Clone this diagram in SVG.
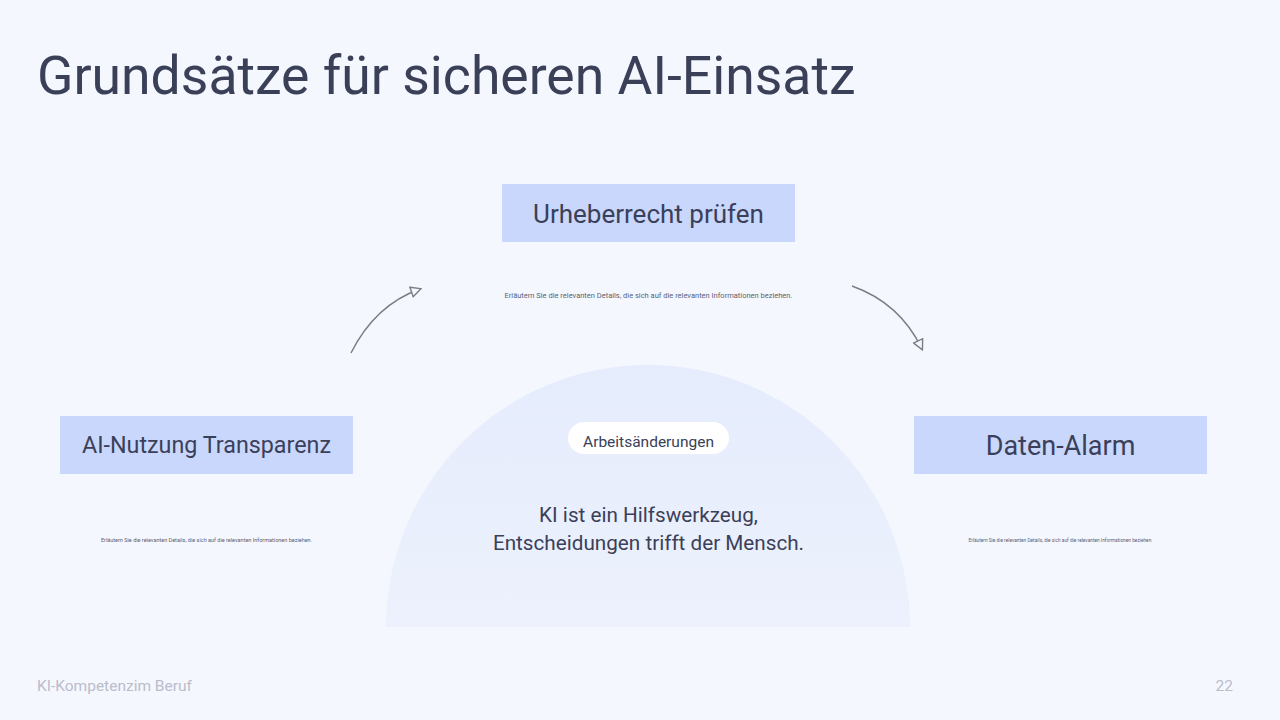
<svg xmlns="http://www.w3.org/2000/svg" width="1280" height="720" viewBox="0 0 1280 720">
<defs>
<style>
text{font-family:Roboto,"Liberation Sans",sans-serif;fill:#3b4059}
.box{fill:#c9d7fd}
.lbl{text-anchor:middle}
.desc{fill:#5a5f72;text-anchor:middle}
.conn{fill:none;stroke:#7a7c86;stroke-width:1.4}
.foot{fill:#b9bdcc;font-size:15.5px}
</style>
<linearGradient id="semi" x1="0" y1="0" x2="0" y2="1">
<stop offset="0" stop-color="#e5ecfc"/>
<stop offset="1" stop-color="#edf1fd"/>
</linearGradient>
<marker id="tri" viewBox="0 0 12 12" refX="10" refY="6" markerWidth="12" markerHeight="12" markerUnits="userSpaceOnUse" orient="auto">
<path d="M1,1 L11,6 L1,11 Z" fill="#f5f7fe" stroke="#7a7c86" stroke-width="1.4"/>
</marker>
</defs>
<rect width="1280" height="720" fill="#f5f7fe"/>
<text x="37" y="94" font-size="53.5">Grundsätze für sicheren AI-Einsatz</text>

<g id="center">
<path d="M386,627 A262,262 0 0 1 910,627 Z" fill="url(#semi)"/>
<rect x="568" y="422" width="161" height="32" rx="16" fill="#ffffff"/>
<text x="648.5" y="447" font-size="15.5" text-anchor="middle">Arbeitsänderungen</text>
<text x="648.5" y="522" font-size="20.7" text-anchor="middle">KI ist ein Hilfswerkzeug,</text>
<text x="648.5" y="550" font-size="20.7" text-anchor="middle">Entscheidungen trifft der Mensch.</text>
</g>

<g id="node-top">
<rect class="box" x="502" y="184" width="293" height="58"/>
<text class="lbl" x="648.5" y="223" font-size="26">Urheberrecht prüfen</text>
<text class="desc" x="648.5" y="298" font-size="7.5">Erläutern Sie die relevanten Details, die sich auf die relevanten Informationen beziehen.</text>
</g>

<g id="node-left">
<rect class="box" x="60" y="416" width="293" height="58"/>
<text class="lbl" x="206.5" y="452.5" font-size="23.3">AI-Nutzung Transparenz</text>
<text class="desc" x="206.5" y="542" font-size="5.5">Erläutern Sie die relevanten Details, die sich auf die relevanten Informationen beziehen.</text>
</g>

<g id="node-right">
<rect class="box" x="914" y="416" width="293" height="58"/>
<text class="lbl" x="1060.5" y="455" font-size="27">Daten-Alarm</text>
<text class="desc" x="1060.5" y="542" font-size="4.8">Erläutern Sie die relevanten Details, die sich auf die relevanten Informationen beziehen.</text>
</g>

<g id="connectors">
<path class="conn" d="M351,353 Q375,305 420,289" marker-end="url(#tri)"/>
<path class="conn" d="M852,286 Q900,303 922,349" marker-end="url(#tri)"/>
</g>

<text class="foot" x="37" y="691">KI-Kompetenzim Beruf</text>
<text class="foot" x="1233" y="691" text-anchor="end">22</text>
</svg>
